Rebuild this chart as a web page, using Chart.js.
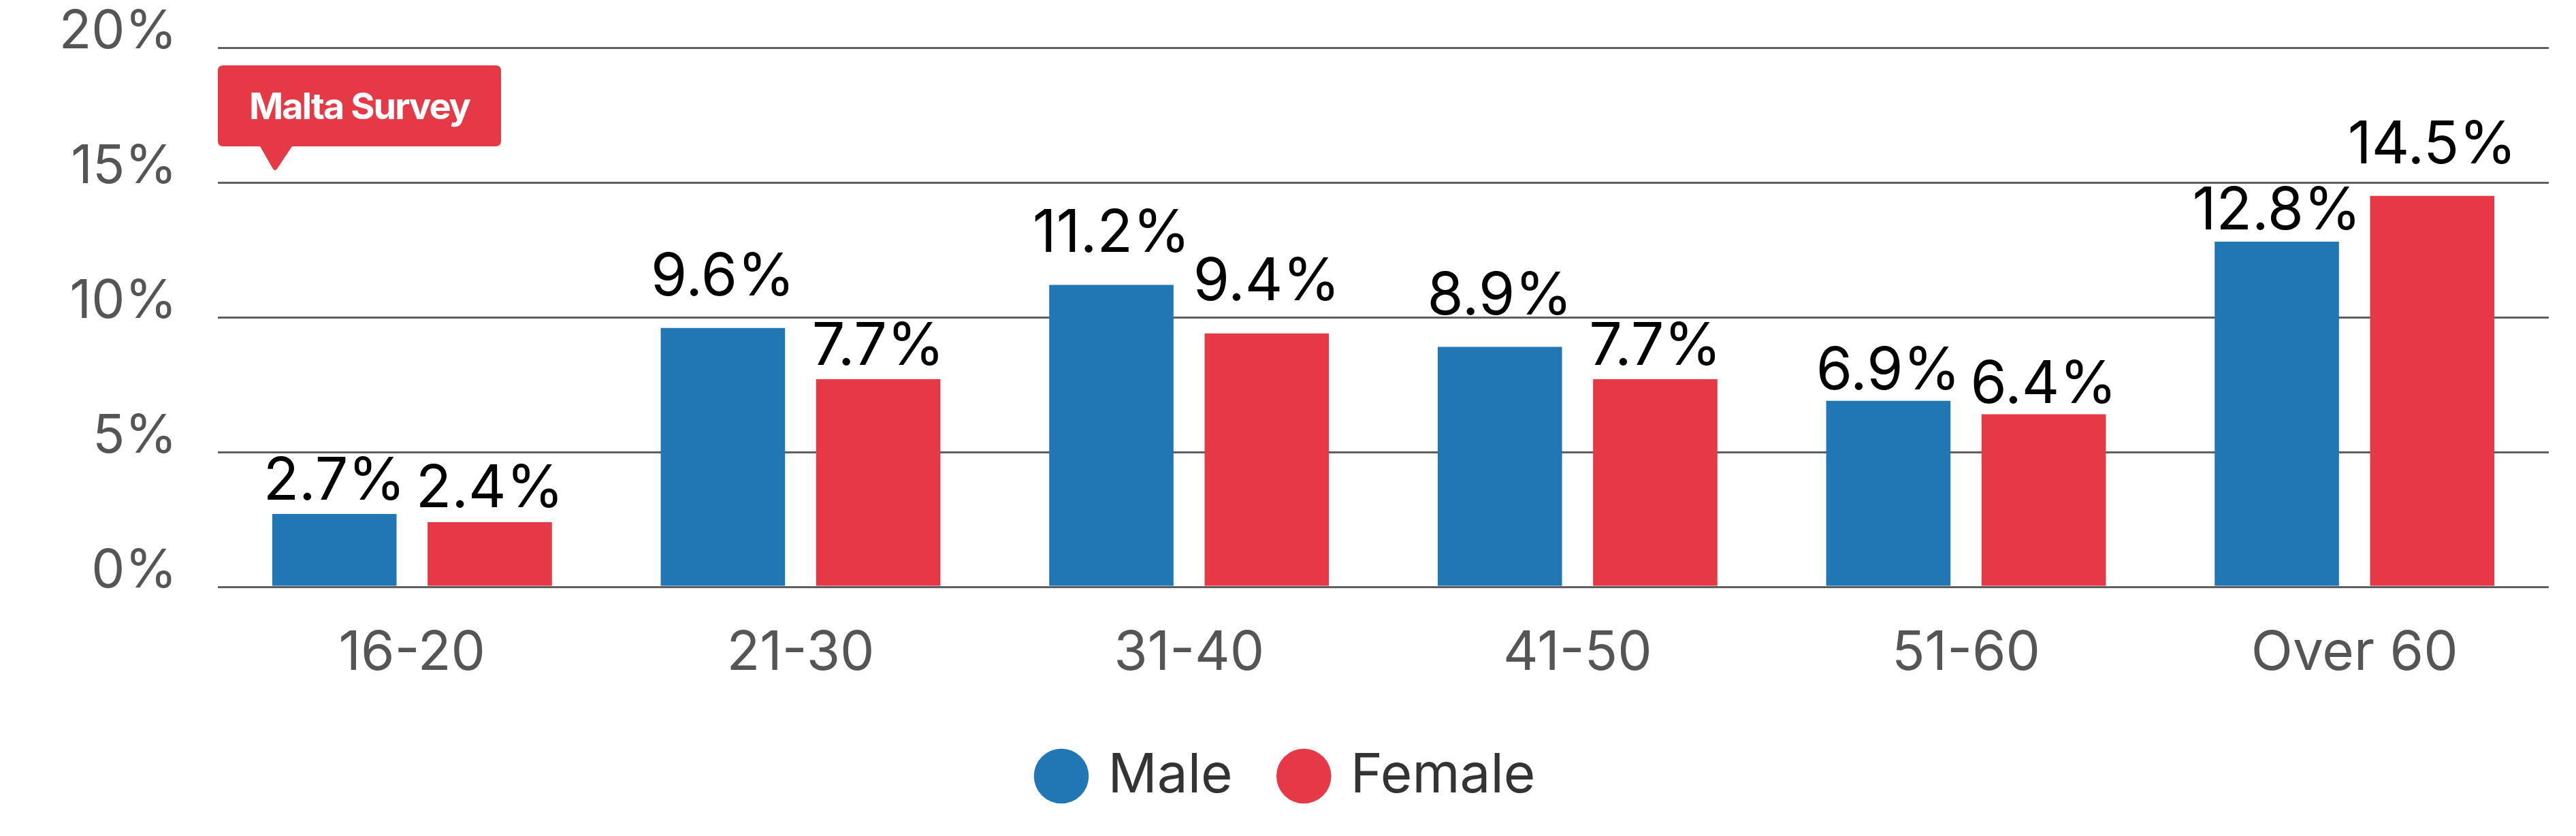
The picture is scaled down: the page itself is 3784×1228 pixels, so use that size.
<!DOCTYPE html>
<html>
<head>
<meta charset="utf-8">
<title>Malta Survey</title>
<script src="https://cdn.jsdelivr.net/npm/chart.js"></script>
<style>
  html, body { margin: 0; padding: 0; background: #fff; }
  #wrap { width: 3784px; height: 1228px; }
</style>
</head>
<body>
<div id="wrap"><canvas id="mycanvas" width="3784" height="1228"></canvas></div>
<script>
// age groups and share of respondents (%)
var ageGroups = ["16-20", "21-30", "31-40", "41-50", "51-60", "Over 60"];
var male = [2.7, 9.6, 11.2, 8.9, 6.9, 12.8];
var female = [2.4, 7.7, 9.4, 7.7, 6.4, 14.5];
var yTicks = [0, 5, 10, 15, 20];
var badgeText = "Malta Survey";

// how far (px) each value label sits above its bar, as in the original
var maleLabelGap = [21, 48, 48, 48, 17, 18];
var femaleLabelGap = [22, 21, 49, 21, 17, 48];

var BLUE = "#2177b4";
var RED = "#e63946";

Chart.defaults.font.family = "Inter, 'Noto Sans', sans-serif";

// value labels above each bar
var barLabels = {
  id: "barLabels",
  afterDatasetsDraw: function(chart) {
    var ctx = chart.ctx;
    var gaps = [maleLabelGap, femaleLabelGap];
    ctx.save();
    ctx.font = "86px Inter";
    ctx.fillStyle = "#000";
    ctx.textAlign = "center";
    ctx.textBaseline = "alphabetic";
    chart.data.datasets.forEach(function(ds, i) {
      var meta = chart.getDatasetMeta(i);
      meta.data.forEach(function(bar, j) {
        ctx.fillText(ds.data[j].toFixed(1) + "%", bar.x, bar.y - gaps[i][j]);
      });
    });
    ctx.restore();
  }
};

// red speech-bubble tag in the top left corner
var badge = {
  id: "badge",
  afterDraw: function(chart) {
    var ctx = chart.ctx;
    var x = chart.chartArea.left, y = 96, w = 416, h = 119, r = 8;
    ctx.save();
    ctx.fillStyle = RED;
    ctx.beginPath();
    ctx.moveTo(x + r, y);
    ctx.lineTo(x + w - r, y);
    ctx.quadraticCurveTo(x + w, y, x + w, y + r);
    ctx.lineTo(x + w, y + h - r);
    ctx.quadraticCurveTo(x + w, y + h, x + w - r, y + h);
    ctx.lineTo(x + 109, y + h);
    ctx.lineTo(x + 87, y + h + 33);
    ctx.quadraticCurveTo(x + 84, y + h + 37, x + 81, y + h + 33);
    ctx.lineTo(x + 62, y + h);
    ctx.lineTo(x + r, y + h);
    ctx.quadraticCurveTo(x, y + h, x, y + h - r);
    ctx.lineTo(x, y + r);
    ctx.quadraticCurveTo(x, y, x + r, y);
    ctx.closePath();
    ctx.fill();
    ctx.fillStyle = "#fff";
    ctx.font = "bold 54px Inter";
    ctx.letterSpacing = "-2px";
    ctx.textAlign = "center";
    ctx.textBaseline = "alphabetic";
    ctx.fillText(badgeText, x + w / 2, y + 79);
    ctx.restore();
  }
};

var chartdata = {
  labels: ageGroups,
  datasets: [
    { label: "Male", data: male, backgroundColor: BLUE },
    { label: "Female", data: female, backgroundColor: RED }
  ]
};

var ctx = document.getElementById("mycanvas");

var barGraph = new Chart(ctx, {
  type: "bar",
  data: chartdata,
  plugins: [barLabels, badge],
  options: {
    responsive: false,
    devicePixelRatio: 1,
    animation: false,
    layout: { padding: { top: 70, right: 40, bottom: 38, left: 42 } },
    datasets: { bar: { categoryPercentage: 0.8, barPercentage: 0.8 } },
    plugins: {
      tooltip: { enabled: false },
      legend: {
        position: "bottom",
        labels: {
          usePointStyle: true,
          pointStyle: "circle",
          boxWidth: 57,
          boxHeight: 57,
          padding: 76,
          color: "#333",
          font: { size: 80 }
        }
      }
    },
    scales: {
      x: {
        grid: { display: false, drawTicks: false },
        border: { display: false },
        afterFit: function(scale) { scale.height = 162; },
        ticks: { color: "#555", font: { size: 80 }, padding: 50 }
      },
      y: {
        min: 0,
        max: 20,
        afterBuildTicks: function(scale) {
          scale.ticks = yTicks.map(function(v) { return { value: v }; });
        },
        afterFit: function(scale) {
          scale.width = 278;
          scale.paddingTop = 0;
          scale.paddingBottom = 0;
        },
        grid: { color: "#5f5f5f", lineWidth: 3, drawTicks: false },
        border: { display: false },
        ticks: {
          color: "#555",
          font: { size: 78 },
          padding: 60,
          labelOffset: -22,
          callback: function(v) { return v + "%"; }
        }
      }
    }
  }
});
</script>
</body>
</html>
